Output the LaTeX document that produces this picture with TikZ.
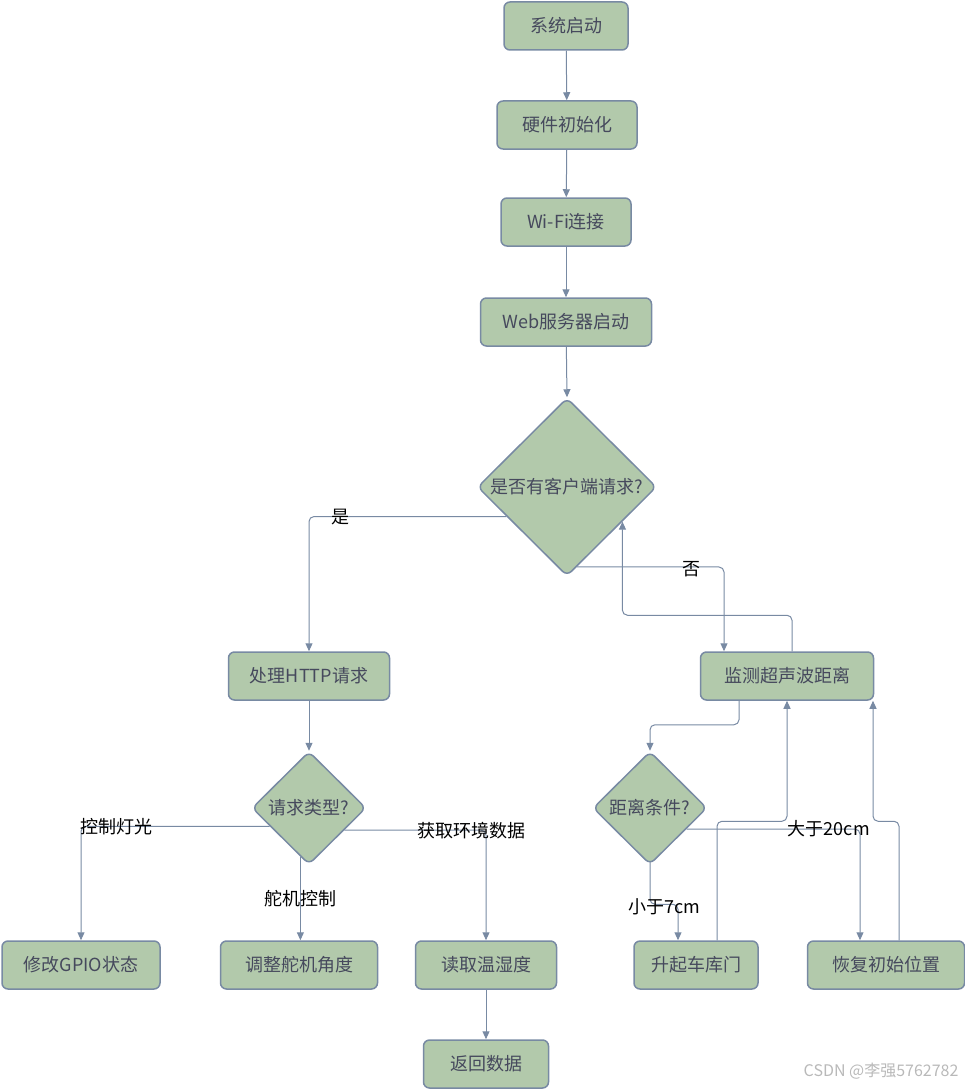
\documentclass[tikz,border=0pt]{standalone}
\usepackage{fontspec}
\setmainfont{Noto Sans CJK SC}
\usetikzlibrary{shapes.geometric,arrows.meta}
\definecolor{sage}{HTML}{B2C9AB}
\definecolor{slate}{HTML}{788AA3}
\definecolor{ink}{HTML}{46495D}
\tikzset{
	box/.style={draw=slate, fill=sage, line width=1.5pt, rounded corners=6pt, minimum height=48pt, inner sep=0pt, text=ink},
	decision/.style={diamond, draw=slate, fill=sage, line width=1.5pt, rounded corners=6pt, inner sep=0pt, text=ink},
	link/.style={draw=slate, line width=1pt, rounded corners=5pt, -{Triangle[width=7pt,length=8pt]}},
	lbl/.style={text=black, inner sep=1pt}
}
\begin{document}
\begin{tikzpicture}[x=1pt, y=-1pt, font=\fontsize{18}{21}\selectfont, line join=round]
	\useasboundingbox (0,0) rectangle (965,1089);
	%Các hộp xử lý
	\foreach \n/\x/\y/\w/\t in {s1/566/26/124/系统启动, s2/567/125/140/硬件初始化, s3/566/222/130/Wi-Fi连接, s4/566/322/171/Web服务器启动, h1/309/676/161/处理HTTP请求, m1/787/676/173/监测超声波距离, g1/81/965/158/修改GPIO状态, g2/299/965/157/调整舵机角度, g3/486/965/141/读取温湿度, g4/486/1064/125/返回数据, d1/696/965/124/升起车库门, d2/886/965/157/恢复初始位置}
	\node[box, minimum width=\w pt] (\n) at (\x,\y) {\t};
	%Các ô quyết định
	\node[decision, minimum width=179pt, minimum height=178pt] (q1) at (567,487) {是否有客户端请求?};
	\node[decision, minimum width=114pt, minimum height=113pt] (q2) at (309,808) {请求类型?};
	\node[decision, minimum width=114pt, minimum height=113pt] (q3) at (650,808) {距离条件?};
	%Mũi tên
	\draw[link] (s1) -- (s2);
	\draw[link] (s2) -- (s3);
	\draw[link] (s3) -- (s4);
	\draw[link] (s4) -- (q1.north);
	\draw[link] (q1.206) -| node[lbl, pos=0.42]{是} (h1.north);
	\draw[link] (q1.-83) -| node[lbl, pos=0.39, yshift=-2pt]{否} ([xshift=-63pt]m1.north);
	\draw[link] ([xshift=5pt]m1.north) -- ++(0,-36) -| (q1.-32);
	\draw[link] (h1) -- (q2.north);
	\draw[link] ([xshift=-48pt]m1.south) -- ++(0,24) -| (q3.north);
	\draw[link] (q2.205) -| node[lbl, pos=0.405]{控制灯光} (g1.north);
	\draw[link] (q2.260) -- node[lbl]{舵机控制} (q2.260 |- g2.north);
	\draw[link] (q2.-32) -| node[lbl, pos=0.45]{获取环境数据} (g3.north);
	\draw[link] (g3) -- (g4);
	\draw[link] ([yshift=4pt]q3.south) -- ++(0,43) -| node[lbl, pos=0.25, yshift=-3pt]{小于7cm} ([xshift=-18pt]d1.north);
	\draw[link] (q3.-30) -| node[lbl, pos=0.41]{大于20cm} ([xshift=-26pt]d2.north);
	\draw[link] ([xshift=21pt]d1.north) -- ++(0,-119) -| (m1.south);
	\draw[link] ([xshift=13pt]d2.north) -- ++(0,-119) -| ([xshift=86pt]m1.south);
	\node[text=gray!55, font=\fontsize{16}{19}\selectfont, anchor=east] (wm) at (962,1071) {CSDN @李强5762782};
\end{tikzpicture}
\end{document}
